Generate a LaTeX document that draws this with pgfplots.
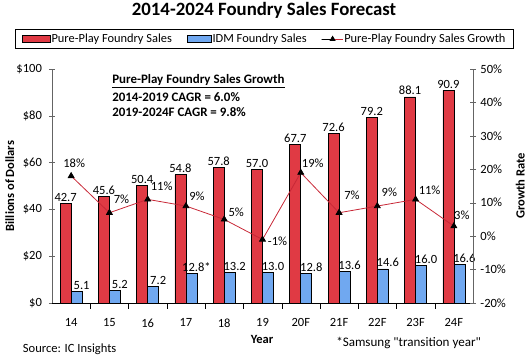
\documentclass[border=0pt]{standalone}
\usepackage{pgfplots}
\pgfplotsset{compat=1.18}
\usepackage{pgfplotstable}
\usepackage{fontspec}
\setmainfont{Carlito}[Ligatures=TeXOff]

\definecolor{barred}{RGB}{224,58,68}
\definecolor{barblue}{RGB}{112,168,240}
\definecolor{linered}{RGB}{200,40,55}
\definecolor{axgray}{RGB}{100,100,100}

\pgfplotstableread{
x pure purelab idm idmlab
0 42.7 42.7 5.1 5.1
1 45.6 45.6 5.2 5.2
2 50.4 50.4 7.2 7.2
3 54.8 54.8 12.8 12.8*
4 57.8 57.8 13.2 13.2
5 57.0 57.0 13.0 13.0
6 67.7 67.7 12.8 12.8
7 72.6 72.6 13.6 13.6
8 79.2 79.2 14.6 14.6
9 88.1 88.1 16.0 16.0
10 90.9 90.9 16.6 16.6
}\sales

\pgfplotstableread{
x g lab dx dy
0 18 18 2.25 9.75
1 7 7 9 9.75
2 11 11 10.5 9.75
3 9 9 8.25 7.5
4 5 5 9 5.25
5 -1 -1 11.25 -1.5
6 19 19 9 6.75
7 7 7 9.75 12.75
8 9 9 9 10.5
9 11 11 10.5 6.75
10 3 3 6 8.25
}\growth

\begin{document}
\fontsize{9.4}{11}\selectfont
\begin{tikzpicture}
\useasboundingbox (0,0) rectangle (396pt,267pt);
\begin{axis}[
  at={(39pt,39.75pt)}, anchor=south west,
  scale only axis, width=315.75pt, height=175.5pt,
  xmin=-0.5, xmax=10.5, ymin=0, ymax=100,
  axis lines*=left, axis line style={-},
  x axis line style={black}, y axis line style={axgray},
  /pgf/number format/assume math mode=true,
  ytick={0,20,...,100},
  yticklabel={\$\pgfmathprintnumber{\tick}},
  yticklabel style={xshift=-2pt},
  xtick={0,...,10},
  xticklabels={14,15,16,17,18,19,20F,21F,22F,23F,24F},
  major x tick style={draw=none},
  minor xtick={0.5,1.5,...,9.5},
  minor x tick style={black},
  ytick style={axgray},
  tick align=center,
  major tick length=4.5pt, minor tick length=4.5pt,
  xticklabel style={yshift=-4pt},
  ybar=0pt, bar width=8.25pt,
  ylabel={\bfseries Billions of Dollars},
  every axis y label/.style={at={(axis description cs:-0.1,0.5)}, rotate=90, anchor=center},
  xlabel={\bfseries Year},
  every axis x label/.style={at={(axis description cs:0.499,-0.158)}, anchor=center},
  legend style={at={(axis description cs:0.504,1.128)}, anchor=center, legend columns=3, draw=black,
    font=\fontsize{9.3}{11}\selectfont, inner xsep=5pt, inner ysep=2.2pt,
    nodes={inner sep=1pt},
    /tikz/every even column/.append style={column sep=10pt}},
  legend cell align=left,
]
\addplot[fill=barred, draw=black, line width=0.5pt,
  nodes near coords, point meta=explicit symbolic,
  every node near coord/.append style={inner sep=1.2pt, black},
  legend image code/.code={\draw[fill=barred,draw=black] (0pt,-2.5pt) rectangle (21pt,2.5pt);}]
  table[x=x, y=pure, meta=purelab]{\sales};
\addlegendentry{Pure-Play Foundry Sales}
\addplot[fill=barblue, draw=black, line width=0.5pt,
  nodes near coords, point meta=explicit symbolic,
  every node near coord/.append style={inner sep=1.2pt, xshift=3.75pt, black},
  legend image code/.code={\draw[fill=barblue,draw=black] (0pt,-2.5pt) rectangle (18pt,2.5pt);}]
  table[x=x, y=idm, meta=idmlab]{\sales};
\addlegendentry{IDM Foundry Sales}
\addlegendimage{legend image code/.code={\draw[linered, line width=0.6pt] (0pt,0pt) -- (15pt,0pt); \path[black, fill=black] plot[mark=triangle*, mark size=2.2pt] coordinates {(7.5pt,0pt)};}}
\addlegendentry{Pure-Play Foundry Sales Growth}
\end{axis}
\begin{axis}[
  at={(39pt,39.75pt)}, anchor=south west,
  scale only axis, width=315.75pt, height=175.5pt,
  xmin=-0.5, xmax=10.5, ymin=-20, ymax=50,
  axis y line*=right, axis x line=none, axis line style={-, axgray},
  /pgf/number format/assume math mode=true,
  ytick={-20,-10,...,50},
  yticklabel={\pgfmathprintnumber{\tick}\%},
  ytick style={axgray},
  tick align=center, major tick length=4.5pt,
  ylabel={\bfseries Growth Rate},
  every axis y label/.style={at={(axis description cs:1.112,0.5)}, rotate=90, anchor=center},
]
\addplot[linered, line width=0.6pt, mark=triangle*, mark size=2.5pt,
  mark options={black, fill=black},
  nodes near coords={\pgfplotspointmeta\%}, point meta=explicit symbolic,
  visualization depends on={\thisrow{dx} \as \myDX},
  visualization depends on={\thisrow{dy} \as \myDY},
  every node near coord/.append style={anchor=center, inner sep=0pt, black, xshift=\myDX pt, yshift=\myDY pt}]
  table[x=x, y=g, meta=lab]{\growth};
\end{axis}
\node[font=\fontsize{14.1}{16}\selectfont\bfseries] at (198pt,259.5pt) {2014-2024 Foundry Sales Forecast};
\node[anchor=west, inner sep=0pt, font=\fontsize{9.7}{11}\selectfont\bfseries] at (84pt,206pt) {\underline{Pure-Play Foundry Sales Growth}};
\node[anchor=west, inner sep=0pt, font=\fontsize{9.7}{11}\selectfont\bfseries] at (84pt,194.25pt) {2014-2019 CAGR = 6.0\%};
\node[anchor=west, inner sep=0pt, font=\fontsize{9.7}{11}\selectfont\bfseries] at (84pt,183pt) {2019-2024F CAGR = 9.8\%};
\node[anchor=west, inner sep=0pt] at (17pt,5.25pt) {Source: IC Insights};
\node[anchor=west, inner sep=0pt, font=\fontsize{9.8}{11}\selectfont] at (252pt,9.75pt) {*Samsung "transition year"};
\end{tikzpicture}
\end{document}
